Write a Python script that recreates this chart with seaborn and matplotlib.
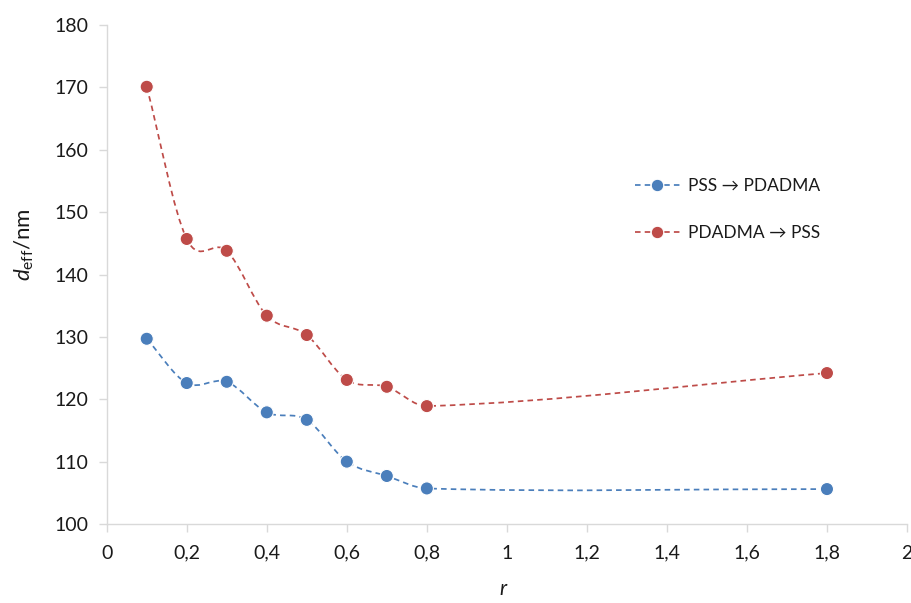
import numpy as np
import matplotlib
matplotlib.use("Agg")
import matplotlib.pyplot as plt
from matplotlib.path import Path
from matplotlib.patches import PathPatch
from matplotlib.lines import Line2D
from matplotlib.ticker import FuncFormatter
import seaborn as sns
import pandas as pd

# data
r = [0.1, 0.2, 0.3, 0.4, 0.5, 0.6, 0.7, 0.8, 1.8]
pss_pdadma = [129.7, 122.6, 122.8, 117.9, 116.7, 110.0, 107.7, 105.7, 105.6]
pdadma_pss = [170.1, 145.7, 143.8, 133.4, 130.3, 123.1, 122.0, 118.9, 124.2]
labels = ["PSS \u2192 PDADMA", "PDADMA \u2192 PSS"]
colors = ["#4a7ebb", "#be4b48"]

sns.set_style("white")
plt.rcParams['font.family'] = ['Lato', 'DejaVu Sans']
plt.rcParams['mathtext.fontset'] = 'custom'
plt.rcParams['mathtext.rm'] = 'Lato'
plt.rcParams['mathtext.it'] = 'Lato:italic'

df = pd.DataFrame({"r": r * 2,
                   "d": pss_pdadma + pdadma_pss,
                   "series": [labels[0]] * len(r) + [labels[1]] * len(r)})

fig = plt.figure(figsize=(9.12, 6.03), dpi=100)
ax = fig.add_axes([0.117, 0.131, 0.8775, 0.8275])


def smooth_path(x, y):
    # smoothed line: cubic hermite segments in x, written as bezier curves
    x = np.asarray(x, float)
    y = np.asarray(y, float)
    n = len(x)
    m = np.zeros(n)
    for i in range(n):
        a = max(i - 1, 0)
        b = min(i + 1, n - 1)
        m[i] = (y[b] - y[a]) / (x[b] - x[a])
    verts = [(x[0], y[0])]
    codes = [Path.MOVETO]
    for i in range(n - 1):
        h = (x[i + 1] - x[i]) / 3
        verts += [(x[i] + h, y[i] + h * m[i]),
                  (x[i + 1] - h, y[i + 1] - h * m[i + 1]),
                  (x[i + 1], y[i + 1])]
        codes += [Path.CURVE4] * 3
    return Path(verts, codes)


dash = (0, (3.2, 2.4))
for ys, c in zip([pss_pdadma, pdadma_pss], colors):
    patch = PathPatch(smooth_path(r, ys), facecolor='none', edgecolor=c,
                      lw=1.25, linestyle=dash, zorder=2)
    ax.add_patch(patch)

sns.scatterplot(data=df, x="r", y="d", hue="series", palette=colors, s=90,
                edgecolor='white', linewidth=0.8, ax=ax, legend=False, zorder=3)

ax.set_xlim(0, 2)
ax.set_ylim(100, 180)
ax.set_xticks(np.arange(0, 2.01, 0.2))
ax.set_yticks(np.arange(100, 181, 10))
ax.xaxis.set_major_formatter(FuncFormatter(lambda v, p: f"{v:.1f}".rstrip('0').rstrip('.').replace('.', ',')))
sns.despine(ax=ax)
for s in ['left', 'bottom']:
    ax.spines[s].set_color('#d9d9d9')
    ax.spines[s].set_linewidth(1.0)
ax.tick_params(axis='both', which='major', length=6, width=1, color='#d9d9d9',
               labelsize=14, labelcolor='#1a1a1a', direction='out', bottom=True, left=True)
ax.tick_params(axis='x', pad=9)
ax.tick_params(axis='y', pad=7)

ax.set_xlabel("r", fontsize=15, style='italic', color='#1a1a1a')
ax.xaxis.set_label_coords(0.495, -0.11)
ax.set_ylabel(r"$d_{\mathrm{eff}}$/nm", fontsize=16, color='#1a1a1a')
ax.yaxis.set_label_coords(-0.088, 0.56)

handles = [Line2D([], [], color=c, lw=1.25, linestyle=dash, marker='o',
                  markersize=9, markeredgecolor='white', markeredgewidth=0.8)
           for c in colors]
ax.legend(handles, labels, loc='upper left', bbox_to_anchor=(0.64, 0.725),
          frameon=False, fontsize=12.5, labelspacing=1.8, handlelength=2.6,
          handletextpad=0.5, labelcolor='#1a1a1a')

fig.savefig("out.png", dpi=100)
